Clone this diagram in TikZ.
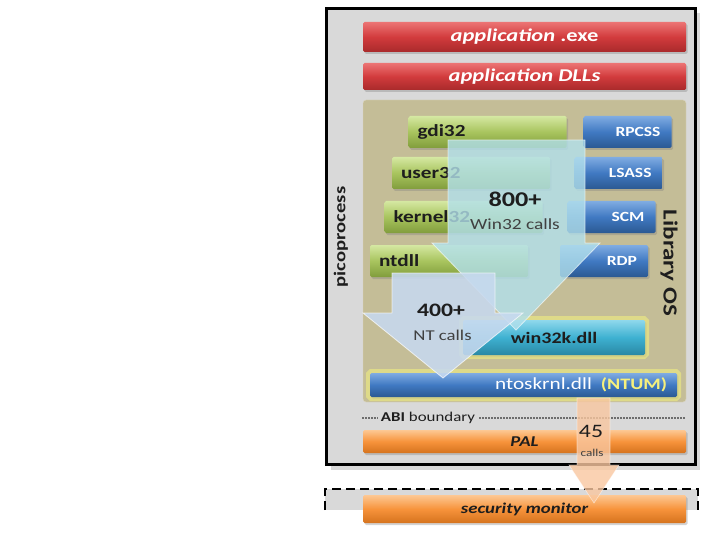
\documentclass[tikz,border=0pt]{standalone}
\usepackage{fontspec}
\setmainfont[FakeStretch=1.25]{Carlito}
\usetikzlibrary{shadows}

\definecolor{picogray}{HTML}{D9D9D9}
\definecolor{libtan}{HTML}{C4BD97}
\definecolor{redtop}{HTML}{EC7474}
\definecolor{redmid}{HTML}{D23B3D}
\definecolor{redbot}{HTML}{A92A2B}
\definecolor{greentop}{HTML}{D5E8A2}
\definecolor{greenmid}{HTML}{A8C45E}
\definecolor{greenbot}{HTML}{819D3C}
\definecolor{bluetop}{HTML}{80ACE2}
\definecolor{bluemid}{HTML}{4079C2}
\definecolor{bluebot}{HTML}{2B5992}
\definecolor{tealtop}{HTML}{8FD8EC}
\definecolor{tealmid}{HTML}{3EB1D1}
\definecolor{tealbot}{HTML}{2A88A4}
\definecolor{orangetop}{HTML}{FDC893}
\definecolor{orangemid}{HTML}{F7933B}
\definecolor{orangebot}{HTML}{D5731E}
\definecolor{glowyellow}{HTML}{F4F27E}
\definecolor{ntumyellow}{HTML}{F6F07C}
\definecolor{arrowcyan}{HTML}{B2E0EC}
\definecolor{arrowblue}{HTML}{C7D9EF}
\definecolor{arrowpeach}{HTML}{F9C7A0}
\definecolor{darktext}{HTML}{1E1E1E}

\tikzset{
  bar/.style={rectangle, rounded corners=1.5pt, inner ysep=0pt, minimum height=#1,
    drop shadow={shadow xshift=1.5pt, shadow yshift=-2pt, opacity=.35}},
  bar/.default=32pt,
  redbar/.style={bar=30pt, top color=redtop, bottom color=redbot, middle color=redmid,
    minimum width=323pt, inner xsep=0pt, text=white,
    font=\fontsize{18}{20}\selectfont\bfseries\itshape},
  greenbar/.style={bar, top color=greentop, bottom color=greenbot, middle color=greenmid,
    text width=140pt, inner xsep=9pt, align=left, text=darktext,
    font=\fontsize{17}{19}\selectfont\bfseries},
  bluebar/.style={bar, top color=bluetop, bottom color=bluebot, middle color=bluemid,
    text width=66pt, inner xsep=11pt, align=right, text=white,
    font=\fontsize{14}{16}\selectfont\bfseries},
  glow/.style={preaction={draw=glowyellow, line width=8pt, draw opacity=.55}},
  tealbar/.style={bar=35pt, glow, top color=tealtop, bottom color=tealbot, middle color=tealmid,
    minimum width=182pt, inner xsep=0pt, text=darktext,
    font=\fontsize{16}{18}\selectfont\bfseries},
  ntosbar/.style={bar=24pt, glow, top color=bluetop, bottom color=bluebot, middle color=bluemid,
    text width=287pt, inner xsep=10pt, align=right, text=white,
    font=\fontsize{17}{19}\selectfont},
  orangebar/.style={bar=23pt, top color=orangetop, bottom color=orangebot, middle color=orangemid,
    minimum width=323pt, inner xsep=0pt, text=darktext,
    font=\fontsize{15}{17}\selectfont\bfseries\itshape},
  pico/.style={rectangle, draw=black, line width=3.5pt, fill=picogray,
    minimum width=369pt, minimum height=456pt,
    drop shadow={shadow xshift=4pt, shadow yshift=-5pt, opacity=.3}},
  libbox/.style={rectangle, rounded corners=3pt, draw=libtan!60!white, fill=libtan,
    minimum width=323pt, minimum height=302pt},
  arrow800/.style={fill=arrowcyan, fill opacity=.8, draw=white, draw opacity=.6, line width=.8pt},
  arrow400/.style={fill=arrowblue, fill opacity=.88, draw=white, draw opacity=.7, line width=.8pt},
  arrow45/.style={fill=arrowpeach, fill opacity=.8, draw=white, draw opacity=.5, line width=.6pt},
  callnum/.style={text=darktext, inner sep=0pt},
  calltxt/.style={text=darktext!85, inner sep=0pt},
  abiline/.style={dotted, line width=1.6pt, line cap=round, dash pattern=on 0pt off 3pt}
}

\begin{document}
\begin{tikzpicture}[x=1pt, y=-1pt]
  \useasboundingbox (0,0) rectangle (720,540);

  % picoprocess frame
  \node[pico] (pico) at (511,236.5) {};
  \node[rotate=90, inner sep=0pt, text=darktext, font=\fontsize{16.5}{19}\selectfont\bfseries] (picolbl) at (341,237) {picoprocess};

  % monitor region, cut off below
  \fill[picogray] (325,489) rectangle (698,510);
  \draw[line width=2.5pt, dash pattern=on 9pt off 5pt] (325,510) -- (325,489) -- (698,489) -- (698,510);

  % application bars
  \node[redbar] (appexe) at (524.5,37) {application \upshape.exe};
  \node[redbar, minimum height=27pt] (appdll) at (524.5,76.5) {application DLLs};

  % library OS
  \node[libbox] (libos) at (524.5,251) {};
  \node[rotate=-90, inner sep=0pt, text=darktext, font=\fontsize{20}{22}\selectfont\bfseries] (liblbl) at (669,263) {Library OS};

  % win32 dlls
  \node[greenbar] (gdi) at (487.5,132) {gdi32};
  \node[greenbar] (user) at (471,173) {user32};
  \node[greenbar] (kernel) at (463.5,217) {kernel32};
  \node[greenbar] (ntdll) at (449,261) {ntdll};

  % services
  \node[bluebar] (rpcss) at (627.5,132) {RPCSS};
  \node[bluebar] (lsass) at (618.5,173) {LSASS};
  \node[bluebar] (scm) at (611.5,217) {SCM};
  \node[bluebar] (rdp) at (604,261) {RDP};

  % kernel parts
  \node[tealbar] (wink) at (554,337.5) {win32k.dll};
  \node[ntosbar] (ntos) at (523.5,385) {ntoskrnl.dll\hspace{9pt}\textcolor{ntumyellow}{\bfseries\fontsize{16}{18}\selectfont(NTUM)}};

  % call arrows
  \draw[arrow800] (448,140) -- (585,140) -- (585,243) -- (600,243) -- (516,330) -- (432,243) -- (448,243) -- cycle;
  \node[callnum, font=\fontsize{21}{23}\selectfont\bfseries] (n800) at (515,199) {800+};
  \node[calltxt, font=\fontsize{15.5}{17}\selectfont] (w32) at (515,224) {Win32 calls};
  \draw[arrow400] (392,273) -- (495,273) -- (495,313) -- (523,313) -- (443,378) -- (363,313) -- (392,313) -- cycle;
  \node[callnum, font=\fontsize{19}{21}\selectfont\bfseries] (n400) at (441,310) {400+};
  \node[calltxt, font=\fontsize{15}{17}\selectfont] (ntc) at (442.5,335) {NT calls};

  % ABI boundary
  \draw[abiline] (363,418) -- (686,418);
  \node[fill=picogray, inner xsep=3pt, inner ysep=1pt, text=darktext, font=\fontsize{13.5}{15}\selectfont] (abi) at (428,418) {\textbf{ABI} boundary};

  % PAL and monitor
  \node[orangebar] (pal) at (524.5,441.5) {PAL};
  \node[orangebar, minimum height=28pt] (secmon) at (524.5,509) {security monitor};

  % 45 calls down to the monitor
  \draw[arrow45] (577,398) -- (610,398) -- (610,465) -- (619,465) -- (594,503) -- (569,465) -- (577,465) -- cycle;
  \node[callnum, font=\fontsize{19}{21}\selectfont] (n45) at (591,431) {45};
  \node[calltxt, font=\fontsize{10.5}{12}\selectfont] (c45) at (592,452.5) {calls};
\end{tikzpicture}
\end{document}
